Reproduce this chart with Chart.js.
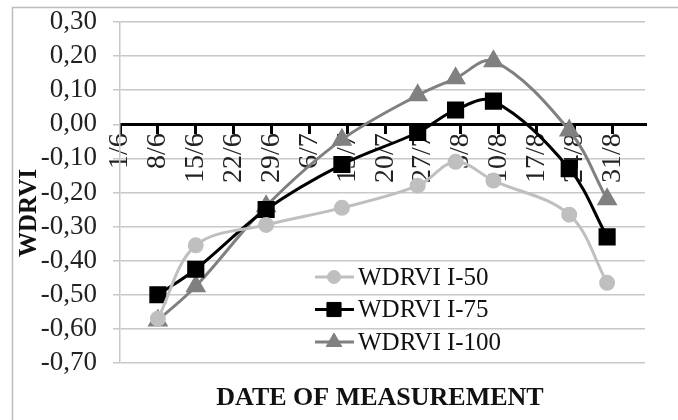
<!DOCTYPE html>
<html>
<head>
<meta charset="utf-8">
<script src="https://cdn.jsdelivr.net/npm/chart.js@4/dist/chart.umd.min.js"></script>
<style>
  html, body { margin: 0; padding: 0; background: #fff; }
</style>
</head>
<body>
<canvas id="grafico-wdrvi" width="678" height="420"></canvas>
<script>
// Dias de medição (contados a partir de 1/6)
const diasMedicao = [7, 14, 27, 41, 55, 62, 69, 83, 90];

// Séries WDRVI
const wdrviI50 = [-0.57, -0.355, -0.295, -0.245, -0.18, -0.11, -0.165, -0.265, -0.465];
const wdrviI75 = [-0.50, -0.425, -0.25, -0.118, -0.024, 0.042, 0.068, -0.13, -0.33];
const wdrviI100 = [-0.575, -0.475, -0.24, -0.045, 0.085, 0.135, 0.185, -0.018, -0.22];

// Eixo X: posições e rótulos das datas
const tickDias = [0, 7, 14, 21, 28, 35, 42, 49, 56, 63, 70, 77, 84, 91];
const tickRotulos = ['1/6', '8/6', '15/6', '22/6', '29/6', '6/7', '13/7', '20/7', '27/7', '3/8', '10/8', '17/8', '24/8', '31/8'];

const fonte = '"Liberation Serif", "Times New Roman", serif';

function pontos(valores) {
    return diasMedicao.map((d, i) => ({ x: d, y: valores[i] }));
}

// Plugin para moldura, títulos dos eixos e legenda dentro do gráfico
const decoracao = {
    id: 'decoracao',
    afterDraw(chart) {
        const ctx = chart.ctx;
        ctx.save();
        ctx.strokeStyle = '#bdbdbd';
        ctx.lineWidth = 1.5;
        ctx.strokeRect(12.5, 7.5, 700, 500);
        ctx.fillStyle = '#111';
        ctx.textAlign = 'center';
        ctx.textBaseline = 'middle';
        ctx.font = 'bold 26px ' + fonte;
        ctx.fillText('DATE OF MEASUREMENT', 380, 398);
        ctx.translate(30, 213);
        ctx.rotate(-Math.PI / 2);
        ctx.font = 'bold 25px ' + fonte;
        ctx.fillText('WDRVI', 0, 0);
        ctx.restore();

        chart.data.datasets.forEach((ds, i) => {
            const y = 277 + i * 32.5;
            ctx.save();
            ctx.strokeStyle = ds.borderColor;
            ctx.lineWidth = 3;
            ctx.beginPath();
            ctx.moveTo(315, y);
            ctx.lineTo(354, y);
            ctx.stroke();
            ctx.fillStyle = ds.pointBackgroundColor;
            ctx.strokeStyle = ds.borderColor;
            ctx.lineWidth = 1;
            Chart.helpers.drawPoint(ctx, { pointStyle: ds.pointStyle, radius: ds.pointRadius, rotation: 0, borderWidth: 1 }, 334, y);
            ctx.fillStyle = '#111';
            ctx.font = '25px ' + fonte;
            ctx.textAlign = 'left';
            ctx.textBaseline = 'middle';
            ctx.fillText(ds.label, 358, y + 1);
            ctx.restore();
        });
    }
};

new Chart(document.getElementById('grafico-wdrvi').getContext('2d'), {
    type: 'line',
    data: {
        datasets: [
            {
                label: 'WDRVI I-50',
                data: pontos(wdrviI50),
                borderColor: '#bfbfbf',
                pointBackgroundColor: '#bfbfbf',
                pointBorderColor: '#bfbfbf',
                pointStyle: 'circle',
                pointRadius: 6.5,
                borderWidth: 3,
                tension: 0.35
            },
            {
                label: 'WDRVI I-75',
                data: pontos(wdrviI75),
                borderColor: '#000000',
                pointBackgroundColor: '#000000',
                pointBorderColor: '#000000',
                pointStyle: 'rect',
                pointRadius: 10,
                borderWidth: 3,
                tension: 0.35
            },
            {
                label: 'WDRVI I-100',
                data: pontos(wdrviI100),
                borderColor: '#808080',
                pointBackgroundColor: '#808080',
                pointBorderColor: '#808080',
                pointStyle: 'triangle',
                pointRadius: 9,
                borderWidth: 3,
                tension: 0.35
            }
        ]
    },
    options: {
        responsive: false,
        animation: false,
        layout: { autoPadding: false, padding: { top: 22, bottom: 57, left: 0, right: 33 } },
        plugins: {
            legend: { display: false },
            tooltip: { enabled: false }
        },
        scales: {
            x: {
                type: 'linear',
                position: { y: 0 },
                min: 0,
                max: 97,
                afterBuildTicks(scale) {
                    scale.ticks = tickDias.map(v => ({ value: v }));
                },
                grid: {
                    drawOnChartArea: false,
                    tickLength: 8,
                    color: '#000',
                    lineWidth: 3
                },
                border: { color: '#000', width: 3 },
                ticks: {
                    autoSkip: false,
                    minRotation: 90,
                    maxRotation: 90,
                    padding: 1,
                    color: '#222',
                    font: { family: fonte, size: 28 },
                    callback: (v, i) => tickRotulos[i]
                }
            },
            y: {
                min: -0.7,
                max: 0.3,
                afterFit(scale) {
                    scale.width = 120;
                    scale.paddingTop = 0;
                    scale.paddingBottom = 0;
                },
                grid: {
                    color: '#c8c8c8',
                    lineWidth: 1.5,
                    tickLength: 7
                },
                border: { color: '#c8c8c8', width: 1.5 },
                ticks: {
                    stepSize: 0.1,
                    autoSkip: false,
                    padding: 16,
                    color: '#222',
                    font: { family: fonte, size: 27 },
                    callback: v => v.toFixed(2).replace('.', ',')
                }
            }
        }
    },
    plugins: [decoracao]
});
</script>
</body>
</html>
